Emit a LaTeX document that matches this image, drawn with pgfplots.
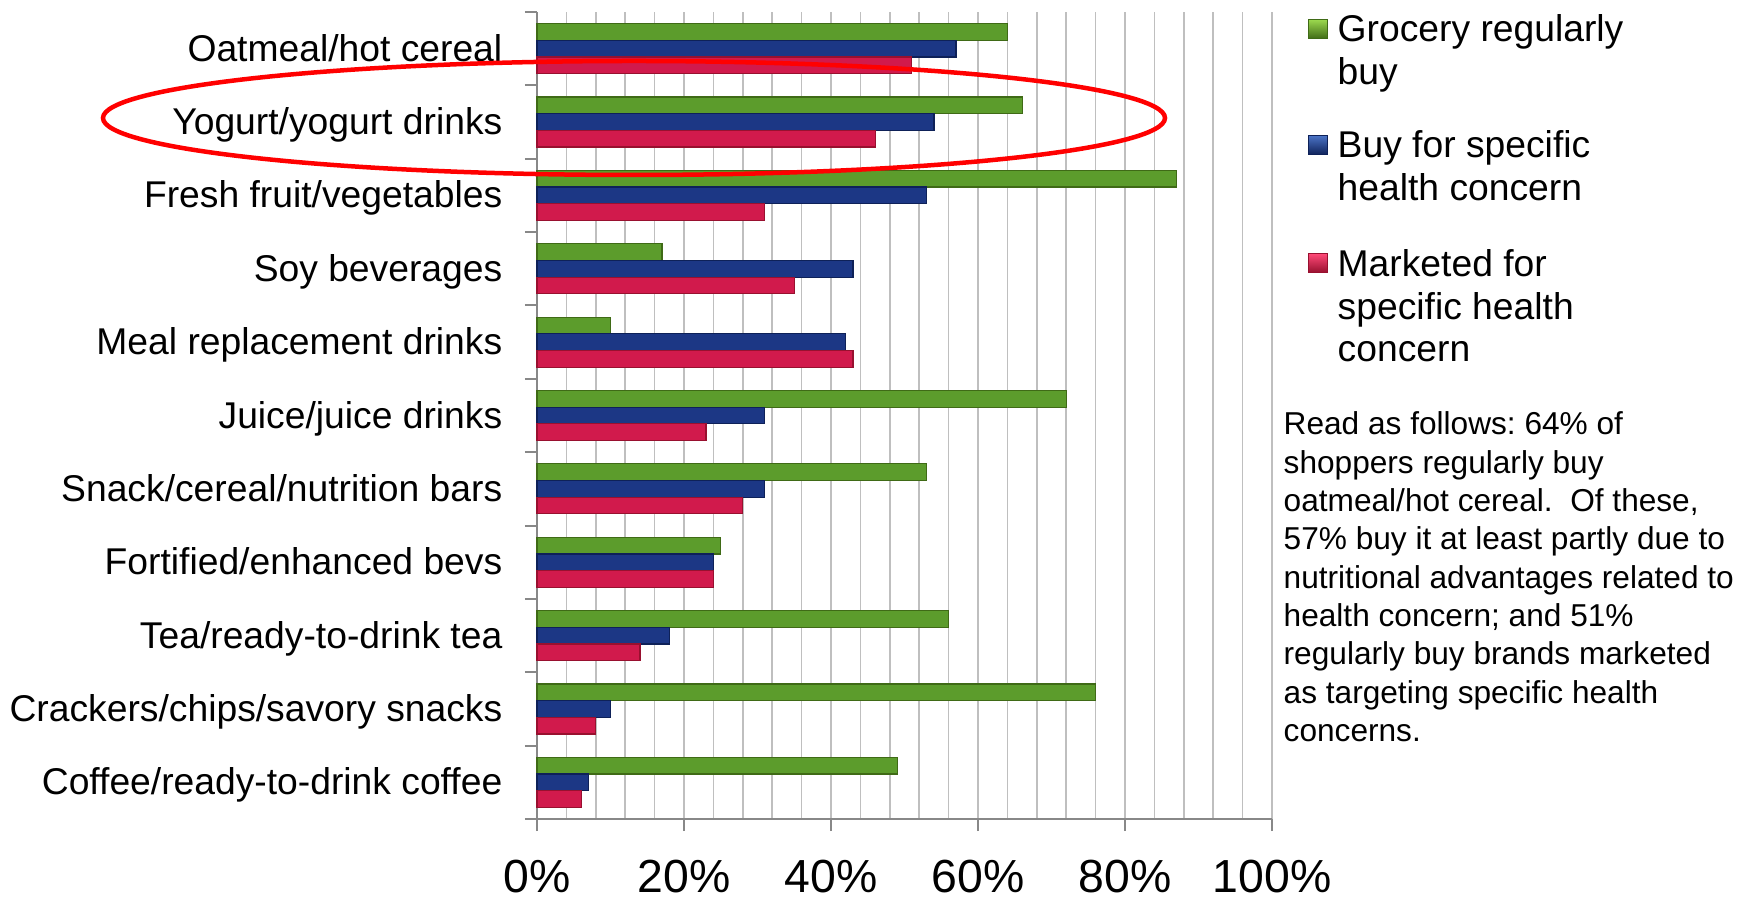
\documentclass[border=0pt]{standalone}
\usepackage{fontspec}
\setmainfont{Liberation Sans}
\usepackage{pgfplots}
\pgfplotsset{compat=1.18}
\definecolor{gTop}{HTML}{9BD84E}
\definecolor{gMid}{HTML}{5C9C2C}
\definecolor{gBot}{HTML}{3F6A16}
\definecolor{bTop}{HTML}{4A72C4}
\definecolor{bMid}{HTML}{1C3785}
\definecolor{bBot}{HTML}{0E2158}
\definecolor{rTop}{HTML}{FF4A78}
\definecolor{rMid}{HTML}{D11A4C}
\definecolor{rBot}{HTML}{98102F}
\definecolor{gridc}{HTML}{BFBFBF}
\definecolor{axisc}{HTML}{888888}
\frenchspacing
\begin{document}
\begin{tikzpicture}
\path[use as bounding box] (0,0) rectangle (174mm,89.8mm);
\begin{axis}[
  at={(53.7mm,7.9mm)}, anchor=south west,
  scale only axis, width=73.5mm, height=80.7mm,
  xbar, bar width=0.227,
  xmin=0, xmax=100, ymin=-0.5, ymax=10.5, y dir=reverse,
  enlargelimits=false, clip=false,
  axis x line*=bottom, axis y line*=left,
  axis line style={axisc, line width=0.25mm},
  xtick={0,20,...,100},
  xticklabels={0\%,20\%,40\%,60\%,80\%,100\%},
  minor x tick num=4,
  xmajorgrids, xminorgrids,
  grid style={gridc, line width=0.15mm},
  minor grid style={gridc, line width=0.15mm},
  ytick={-0.5,0.5,1.5,2.5,3.5,4.5,5.5,6.5,7.5,8.5,9.5,10.5},
  yticklabels={Oatmeal/hot cereal,Yogurt/yogurt drinks,Fresh fruit/vegetables,Soy beverages,Meal replacement drinks,Juice/juice drinks,Snack/cereal/nutrition bars,Fortified/enhanced bevs,Tea/ready-to-drink tea,Crackers/chips/savory snacks,Coffee/ready-to-drink coffee,},
  y tick label as interval,
  tick align=outside,
  major tick length=1.2mm, minor tick length=0pt,
  tick style={axisc, line width=0.2mm},
  xticklabel style={font=\fontsize{13.2}{15}\selectfont, inner sep=0pt, anchor=north, yshift=-2.85mm},
  yticklabel style={font=\fontsize{10.6}{12}\selectfont, inner sep=0pt, anchor=east, text height=0.716em, text depth=0pt, xshift=-2.2mm},
]
\addplot[fill=gMid, draw=gBot, line width=0.12mm, bar shift=-0.227]
  coordinates {(64,0) (66,1) (87,2) (17,3) (10,4) (72,5) (53,6) (25,7) (56,8) (76,9) (49,10)};
\addplot[fill=bMid, draw=bBot, line width=0.12mm, bar shift=0]
  coordinates {(57,0) (54,1) (53,2) (43,3) (42,4) (31,5) (31,6) (24,7) (18,8) (10,9) (7,10)};
\addplot[fill=rMid, draw=rBot, line width=0.12mm, bar shift=0.227]
  coordinates {(51,0) (46,1) (31,2) (35,3) (43,4) (23,5) (28,6) (24,7) (14,8) (8,9) (6,10)};
\end{axis}
% highlight ellipse
\draw[red, line width=0.45mm] (63.4mm,78.0mm) ellipse [x radius=53.1mm, y radius=5.7mm];
% legend
\shade[top color=gTop, middle color=gMid, bottom color=gBot, draw=gBot, line width=0.1mm] (130.8mm,85.93mm) rectangle (132.7mm,87.83mm);
\shade[top color=bTop, middle color=bMid, bottom color=bBot, draw=bBot, line width=0.1mm] (130.8mm,74.32mm) rectangle (132.7mm,76.22mm);
\shade[top color=rTop, middle color=rMid, bottom color=rBot, draw=rBot, line width=0.1mm] (130.8mm,62.55mm) rectangle (132.7mm,64.45mm);
\begin{scope}[every node/.style={anchor=base west, inner sep=0pt, font=\fontsize{10.6}{12}\selectfont}]
\node at (133.7mm,85.63mm) {Grocery regularly};
\node at (133.7mm,81.38mm) {buy};
\node at (133.7mm,74.0mm) {Buy for specific};
\node at (133.7mm,69.75mm) {health concern};
\node at (133.7mm,62.13mm) {Marketed for};
\node at (133.7mm,57.88mm) {specific health};
\node at (133.7mm,53.63mm) {concern};
\end{scope}
\begin{scope}[every node/.style={anchor=base west, inner sep=0pt, font=\fontsize{9}{11}\selectfont}]
\node at (128.3mm,46.3mm) {Read as follows: 64\% of};
\node at (128.3mm,42.47mm) {shoppers regularly buy};
\node at (128.3mm,38.63mm) {oatmeal/hot cereal.\ \ Of these,};
\node at (128.3mm,34.8mm) {57\% buy it at least partly due to};
\node at (128.3mm,30.97mm) {nutritional advantages related to};
\node at (128.3mm,27.13mm) {health concern; and 51\%};
\node at (128.3mm,23.3mm) {regularly buy brands marketed};
\node at (128.3mm,19.47mm) {as targeting specific health};
\node at (128.3mm,15.63mm) {concerns.};
\end{scope}
\end{tikzpicture}
\end{document}
